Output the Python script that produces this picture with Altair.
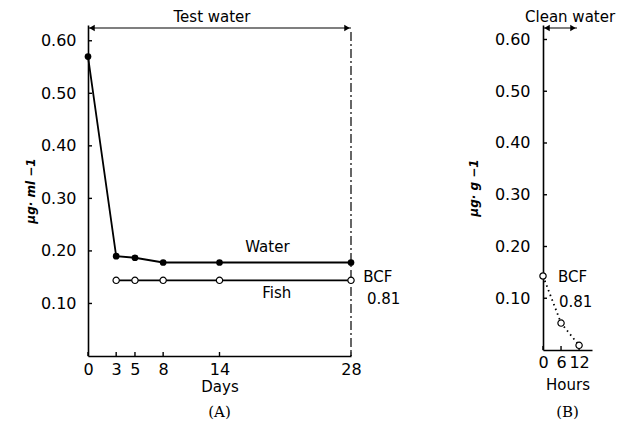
import altair as alt
import pandas as pd

# ---------------- data ----------------
# Panel A: test water exposure (days)
days_water = [0, 3, 5, 8, 14, 28]
conc_water = [0.570, 0.190, 0.187, 0.178, 0.178, 0.178]
days_fish = [3, 5, 8, 14, 28]
conc_fish = [0.144, 0.144, 0.144, 0.144, 0.144]
# Panel B: clean water depuration (hours)
hours_clean = [0, 6, 12]
conc_clean = [0.143, 0.052, 0.009]

y_ticks = [0.10, 0.20, 0.30, 0.40, 0.50, 0.60]
day_ticks = [0, 3, 5, 8, 14, 28]
hour_ticks = [0, 6, 12]

FONT = "DejaVu Sans"
SERIF = "DejaVu Serif"

# ---------------- helpers ----------------
def axis_x(values, title, label_pad, title_pad):
    return alt.Axis(values=values, title=title, ticks=False, grid=False,
                    labelFont=FONT, labelFontSize=16, labelPadding=label_pad,
                    labelColor="black", labelFlush=False, labelOverlap=False,
                    labelBound=False, titleFont=FONT, titleFontSize=15,
                    titleFontWeight="normal", titleColor="black", titlePadding=title_pad,
                    domainColor="black", domainWidth=1.6)


def axis_y(title, label_pad, title_pad):
    return alt.Axis(values=y_ticks, format=".2f", title=title, ticks=False, grid=False,
                    labelFont=FONT, labelFontSize=16, labelPadding=label_pad,
                    labelColor="black", labelOverlap=False, labelBound=False,
                    titleFont=FONT, titleFontSize=12, titleFontWeight="bold",
                    titleFontStyle="italic", titleColor="black", titlePadding=title_pad,
                    domainColor="black", domainWidth=1.6)


def build_panel(W, H, xs, ys, xax, yax, xticks, series, texts, arrow_end,
                top_text, top_x, vline, label, label_offset):
    layers = []
    # inward ticks
    yt = pd.DataFrame({"v": y_ticks})
    layers.append(alt.Chart(yt).mark_rule(color="black", strokeWidth=1.4).encode(
        x=alt.value(0), x2=alt.value(4),
        y=alt.Y("v:Q", scale=ys, axis=yax)))
    xt = pd.DataFrame({"v": xticks})
    layers.append(alt.Chart(xt).mark_rule(color="black", strokeWidth=1.4).encode(
        x=alt.X("v:Q", scale=xs, axis=xax),
        y=alt.value(H), y2=alt.value(H - 4)))
    # vertical dash-dot line
    if vline is not None:
        layers.append(alt.Chart(pd.DataFrame({"v": [vline]})).mark_rule(
            color="black", strokeWidth=1.2, strokeDash=[9, 3, 2, 3]).encode(
            x=alt.X("v:Q", scale=xs, axis=xax), y=alt.value(7), y2=alt.value(H)))
    # series
    for xs_vals, ys_vals, filled, dash in series:
        df = pd.DataFrame({"x": xs_vals, "y": ys_vals})
        line_kwargs = dict(color="black", strokeWidth=1.8)
        if dash:
            line_kwargs["strokeDash"] = dash
        layers.append(alt.Chart(df).mark_line(**line_kwargs).encode(
            x=alt.X("x:Q", scale=xs, axis=xax), y=alt.Y("y:Q", scale=ys, axis=yax)))
        if filled:
            pt = alt.Chart(df).mark_point(filled=True, color="black", size=45, opacity=1)
        else:
            pt = alt.Chart(df).mark_point(filled=True, fill="white", stroke="black",
                                          strokeWidth=1.2, size=40, opacity=1)
        layers.append(pt.encode(x=alt.X("x:Q", scale=xs, axis=xax),
                                y=alt.Y("y:Q", scale=ys, axis=yax)))
    # text annotations
    for txt, tx, ty, align in texts:
        layers.append(alt.Chart(pd.DataFrame({"x": [tx], "y": [ty], "t": [txt]})).mark_text(
            font=FONT, fontSize=15, color="black", align=align, baseline="middle").encode(
            x=alt.X("x:Q", scale=xs, axis=xax), y=alt.Y("y:Q", scale=ys, axis=yax), text="t:N"))
    # double arrow at top
    arr = pd.DataFrame({"x": [0], "x2": [arrow_end]})
    layers.append(alt.Chart(arr).mark_rule(color="black", strokeWidth=1.2).encode(
        x=alt.X("x:Q", scale=xs, axis=xax), x2="x2:Q", y=alt.value(3)))
    layers.append(alt.Chart(pd.DataFrame({"x": [0]})).mark_point(
        shape="triangle-left", filled=True, color="black", size=40, opacity=1, xOffset=4).encode(
        x=alt.X("x:Q", scale=xs, axis=xax), y=alt.value(3)))
    layers.append(alt.Chart(pd.DataFrame({"x": [arrow_end]})).mark_point(
        shape="triangle-right", filled=True, color="black", size=40, opacity=1, xOffset=-4).encode(
        x=alt.X("x:Q", scale=xs, axis=xax), y=alt.value(3)))
    # top caption
    layers.append(alt.Chart(pd.DataFrame({"x": [top_x], "t": [top_text]})).mark_text(
        font=FONT, fontSize=15, color="black", align="center", baseline="middle").encode(
        x=alt.X("x:Q", scale=xs, axis=xax), y=alt.value(-8), text="t:N"))
    return alt.layer(*layers).properties(
        width=W, height=H,
        title=alt.TitleParams(label, orient="bottom", font=SERIF, fontSize=15,
                              fontWeight="normal", color="black", offset=label_offset))


# ---------------- panel A ----------------
xsA = alt.Scale(domain=[0, 28], nice=False, zero=False)
ysA = alt.Scale(domain=[0, 0.63], nice=False)
panelA = build_panel(
    263, 331, xsA, ysA, axis_x(day_ticks, "Days", 5, 2), axis_y("μg· ml −1", 12, 3), day_ticks,
    [(days_water, conc_water, True, None), (days_fish, conc_fish, False, None)],
    [("Water", 19.1, 0.207, "center"), ("Fish", 20.1, 0.120, "center"),
     ("BCF", 29.3, 0.150, "left"), ("0.81", 29.7, 0.108, "left")],
    28, "Test water", 13.2, 28, "(A)", 11)

# ---------------- panel B ----------------
xsB = alt.Scale(domain=[0, 16.3], nice=False, zero=False)
ysB = alt.Scale(domain=[0, 0.628], nice=False)
panelB = build_panel(
    49, 325, xsB, ysB, axis_x(hour_ticks, "Hours", 4, 7), axis_y("μg· g −1", 13, 14), hour_ticks,
    [(hours_clean, conc_clean, False, [1.5, 3.5])],
    [("BCF", 5.0, 0.142, "left"), ("0.81", 5.3, 0.093, "left")],
    11.3, "Clean water", 9.0, None, "(B)", 13)

chart = alt.hconcat(panelA, panelB, spacing=66).properties(
    padding={"left": 16, "top": 2, "right": 0, "bottom": 0},
    background="white"
).configure_view(stroke=None)

chart.save("out.html", embed_options={"renderer": "svg", "actions": False})
